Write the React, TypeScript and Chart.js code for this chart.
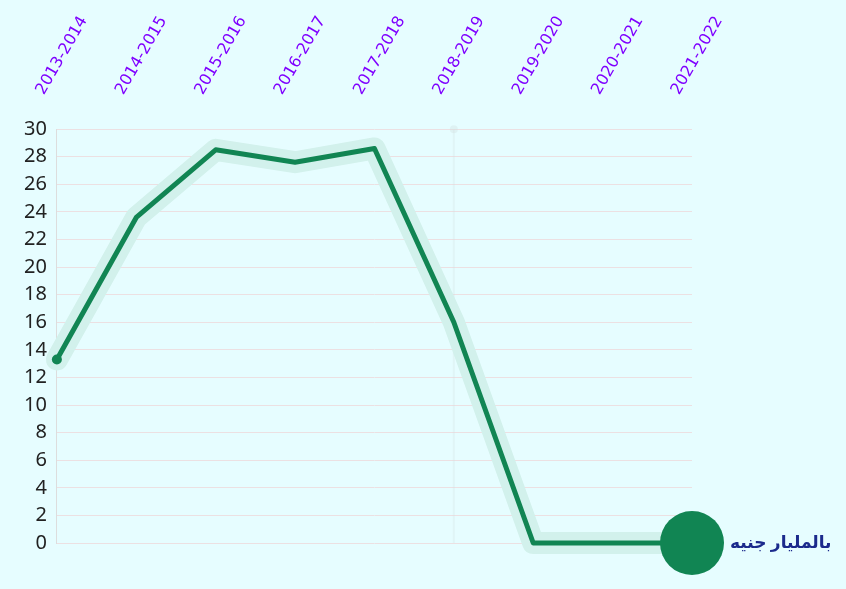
import React, { useEffect, useRef } from "react";
import { Chart, registerables } from "chart.js";

Chart.register(...registerables);

const categories = ["2013-2014", "2014-2015", "2015-2016", "2016-2017", "2017-2018", "2018-2019", "2019-2020", "2020-2021", "2021-2022"];
const values = [13.3, 23.6, 28.5, 27.6, 28.6, 16, 0, 0, 0];
const unitLabel = "بالمليار جنيه";
const hoverIndex = 5;

const BG = "#e6fdff";

const extrasPlugin = {
  id: "extras",
  beforeDatasetsDraw(chart: any) {
    const { ctx, chartArea } = chart;
    const xs = chart.scales.x;
    const x = xs.getPixelForValue(hoverIndex);
    ctx.save();
    ctx.strokeStyle = "rgba(210,225,225,0.3)";
    ctx.lineWidth = 2;
    ctx.beginPath();
    ctx.moveTo(x, chartArea.top);
    ctx.lineTo(x, chartArea.bottom);
    ctx.stroke();
    ctx.fillStyle = "rgba(210,225,225,0.4)";
    ctx.beginPath();
    ctx.arc(x, chartArea.top, 4, 0, Math.PI * 2);
    ctx.fill();
    ctx.restore();
  },
  afterDatasetsDraw(chart: any) {
    const { ctx } = chart;
    const meta = chart.getDatasetMeta(0);
    const last = meta.data[meta.data.length - 1];
    ctx.save();
    ctx.font = "bold 17px 'Noto Sans', 'DejaVu Sans', sans-serif";
    ctx.fillStyle = "#1b2a8c";
    ctx.textAlign = "left";
    ctx.textBaseline = "middle";
    ctx.fillText(unitLabel, last.x + 38, last.y);
    ctx.restore();
  },
};

export default function App() {
  const ref = useRef<HTMLCanvasElement>(null);
  useEffect(() => {
    document.body.style.margin = "0";
    document.body.style.background = BG;
    const chart = new Chart(ref.current!, {
      type: "line",
      data: {
        labels: categories,
        datasets: [
          {
            data: values,
            borderColor: "#118553",
            backgroundColor: "#118553",
            borderWidth: 5,
            pointRadius: values.map((_, i) => (i === values.length - 1 ? 32 : i === 0 ? 5 : 0)),
            pointBackgroundColor: "#118553",
            pointBorderWidth: 0,
            borderJoinStyle: "round",
            borderCapStyle: "round",
            tension: 0,
            clip: false,
          },
          {
            data: values,
            borderColor: "#d2f1ec",
            borderWidth: 22,
            pointRadius: 0,
            borderJoinStyle: "round",
            borderCapStyle: "round",
            tension: 0,
            clip: false,
          },
        ],
      },
      options: {
        responsive: false,
        animation: false,
        events: [],
        layout: { padding: { right: 154, bottom: 46, top: -18, left: 14 } },
        plugins: { legend: { display: false }, tooltip: { enabled: false } },
        scales: {
          x: {
            position: "top",
            grid: { display: false, drawTicks: false },
            border: { display: false },
            ticks: {
              color: "#7f00ff",
              font: { family: "'DejaVu Sans'", size: 16 },
              minRotation: 60,
              maxRotation: 60,
              padding: 31,
              autoSkip: false,
            },
          },
          y: {
            min: 0,
            max: 30,
            grid: { color: "#ece0e2", drawTicks: false, lineWidth: 1 },
            border: { display: true, color: "#dddddd" },
            ticks: {
              stepSize: 2,
              autoSkip: false,
              color: "#222222",
              font: { family: "'Noto Sans'", size: 20 },
              padding: 10,
            },
          },
        },
      },
      plugins: [extrasPlugin],
    });
    return () => chart.destroy();
  }, []);
  return <canvas ref={ref} width={846} height={589} style={{ display: "block", background: BG }} />;
}
